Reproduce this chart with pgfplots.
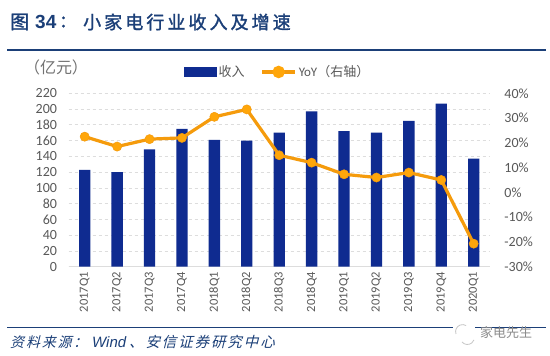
\documentclass[border=0pt]{standalone}
\usepackage{pgfplots}
\pgfplotsset{compat=1.18}
\usepackage{fontspec}
\setmainfont{Carlito}
\newfontfamily\cjk{Noto Sans CJK SC}
\newfontfamily\cjktitle[LetterSpace=17,FakeBold=1.6]{Noto Sans CJK SC}
\newfontfamily\cjksrc[FakeSlant=0.25,LetterSpace=13]{Noto Sans CJK SC}
\newfontfamily\cjklight{Noto Sans CJK SC}
\newfontfamily\heros{Liberation Sans}
\definecolor{navy}{HTML}{1B3F78}
\definecolor{barblue}{HTML}{0F2B90}
\definecolor{linor}{HTML}{F59B0C}
\definecolor{markor}{HTML}{FFA60A}
\definecolor{txtgray}{HTML}{595959}
\definecolor{gridc}{HTML}{DDDDDD}
\begin{document}
\begin{tikzpicture}[x=1pt,y=1pt]
\useasboundingbox (0,0) rectangle (550,356);
\fill[white] (0,0) rectangle (550,356);
% title and rules
\node[anchor=west,text=navy,inner sep=0pt] at (10,334) {\fontsize{19}{19}\selectfont\cjktitle 图};
\node[anchor=west,text=navy,inner sep=0pt] at (35,334) {\fontsize{19}{19}\selectfont\heros\bfseries 34};
\node[anchor=west,text=navy,inner sep=0pt] at (59,334) {\fontsize{17}{17}\selectfont\cjktitle ：};
\node[anchor=west,text=navy,inner sep=0pt] at (83,334) {\fontsize{18}{18}\selectfont\cjktitle 小家电行业收入及增速};
\draw[navy,line width=1.3pt] (7,306) -- (546,306);
\draw[navy,line width=1.3pt] (7,28.3) -- (453,28.3);
\draw[navy,line width=1.3pt] (475,28.3) -- (546,28.3);
\node[anchor=west,text=navy,inner sep=0pt] at (10,14) {\fontsize{14}{14}\selectfont\cjksrc 资料来源：};
\node[anchor=west,text=navy,inner sep=0pt] at (92,14) {\fontsize{15}{15}\selectfont\heros\itshape Wind};
\node[anchor=west,text=navy,inner sep=0pt] at (129,14) {\fontsize{14.5}{14.5}\selectfont\cjksrc 、安信证券研究中心};
% unit
\node[anchor=center,text=txtgray!85,inner sep=0pt] at (56,289) {\fontsize{16}{16}\selectfont\cjklight （亿元）};
% watermark
\draw[gray!45,line width=0.8pt] (456,22) arc (200:60:7);
\draw[gray!45,line width=0.8pt] (462,14) arc (220:340:7);
\node[anchor=center,text=gray!90,inner sep=0pt] at (506,23.5) {\fontsize{13}{13}\selectfont\cjklight 家电先生};
\begin{axis}[
  at={(68.5pt,89.3pt)},anchor=south west,scale only axis,
  width=421.4pt,height=173.4pt,
  xmin=-0.5,xmax=12.5,ymin=0,ymax=220,
  axis y line*=left,axis x line*=bottom,
  y axis line style={draw=none},
  x axis line style={draw=gridc,line width=0.8pt,-},
  xtick={0,...,12},
  xticklabels={2017Q1,2017Q2,2017Q3,2017Q4,2018Q1,2018Q2,2018Q3,2018Q4,2019Q1,2019Q2,2019Q3,2019Q4,2020Q1},
  x tick label style={rotate=90,anchor=east,font=\fontsize{12.5}{12.5}\selectfont,text=txtgray,xshift=-2pt},
  ytick={0,20,...,220},
  yticklabels={0,20,40,60,80,100,120,140,160,180,200,220},
  y tick label style={font=\fontsize{14}{14}\selectfont,text=txtgray,xshift=-8pt},
  major tick length=0pt,
  ymajorgrids,
  grid style={gridc,dashed,line width=0.7pt},
  axis on top=false,
]
\addplot[ybar,bar width=11.3pt,fill=barblue,draw=none,bar shift=0pt] coordinates {
(0,123)(1,120)(2,149)(3,175)(4,161)(5,160)(6,170)(7,197)(8,172)(9,170)(10,185)(11,207)(12,137)};
\end{axis}
\begin{axis}[
  at={(68.5pt,89.3pt)},anchor=south west,scale only axis,
  width=421.4pt,height=173.4pt,
  xmin=-0.5,xmax=12.5,ymin=-30,ymax=40,
  axis y line*=right,axis x line=none,
  y axis line style={draw=none},
  ytick={-30,-20,...,40},
  yticklabels={-30\%,-20\%,-10\%,0\%,10\%,20\%,30\%,40\%},
  y tick label style={font=\fontsize{14}{14}\selectfont,text=txtgray,anchor=west,xshift=11pt},
  major tick length=0pt,
  legend columns=2,
  legend style={at={(0.274,1.123)},anchor=west,draw=none,fill=none,inner sep=0pt,
    font=\fontsize{13}{13}\selectfont,text=txtgray,
    /tikz/every even column/.append style={column sep=14pt}},
  legend cell align=left,
]
\addlegendimage{legend image code/.code={\fill[barblue] (0pt,-4.5pt) rectangle (32pt,4.5pt);}}
\addlegendentry{{\cjk 收入}}
\addplot[linor,line width=3.2pt,mark=*,mark size=4.6pt,mark options={fill=markor,draw=linor,line width=0.5pt},
  legend image code/.code={
    \draw[linor,line width=3.2pt] (0pt,0pt) -- (33pt,0pt);
    \fill[markor] (16.5pt,0pt) circle (4.6pt);}]
 coordinates {
(0,22.5)(1,18.5)(2,21.5)(3,22)(4,30.5)(5,33.5)(6,15)(7,12)(8,7.3)(9,6)(10,8)(11,5)(12,-20.7)};
\addlegendentry{YoY{\cjk （右轴）}}
\end{axis}
\end{tikzpicture}
\end{document}
